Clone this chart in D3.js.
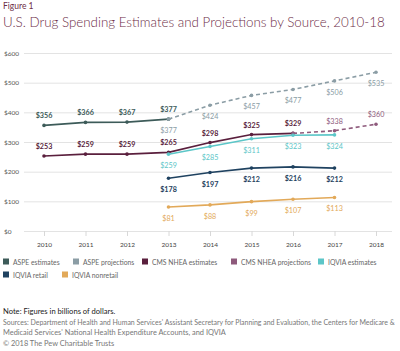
<!DOCTYPE html>
<html>
<head>
<meta charset="utf-8">
<script src="https://cdn.jsdelivr.net/npm/d3@7"></script>
<style>
  body { margin: 0; background: #fff; }
  svg { display: block; font-family: Lato, "Open Sans", sans-serif; }
</style>
</head>
<body>
<svg id="chart" width="400" height="351"></svg>
<script>
// values (billions of dollars)
const years = [2010, 2011, 2012, 2013, 2014, 2015, 2016, 2017, 2018];
const yTicks = [0, 100, 200, 300, 400, 500, 600];

const aspeEstYears = [2010, 2011, 2012, 2013];
const aspeEst = [356, 366, 367, 377];
const aspeProjYears = [2013, 2014, 2015, 2016, 2017, 2018];
const aspeProj = [377, 424, 457, 477, 506, 535];
const cmsEstYears = [2010, 2011, 2012, 2013, 2014, 2015, 2016];
const cmsEst = [253, 259, 259, 265, 298, 325, 329];
const cmsProjYears = [2016, 2017, 2018];
const cmsProj = [329, 338, 360];
const iqviaYears = [2013, 2014, 2015, 2016, 2017];
const iqviaEst = [259, 285, 311, 323, 324];
const iqviaRetail = [178, 197, 212, 216, 212];
const iqviaNonretail = [81, 88, 99, 107, 113];

const series = [
  { name: "ASPE estimates", x: aspeEstYears, y: aspeEst, color: "#3d5b59", dash: null, pos: "above", bold: true, skip: [] },
  { name: "ASPE projections", x: aspeProjYears, y: aspeProj, color: "#8b9da5", dash: "4,3", pos: "below", bold: false, skip: [] },
  { name: "CMS NHEA estimates", x: cmsEstYears, y: cmsEst, color: "#5a1f3d", dash: null, pos: "above", bold: true, skip: [] },
  { name: "CMS NHEA projections", x: cmsProjYears, y: cmsProj, color: "#8e5a7c", dash: "4,3", pos: "above", bold: false, skip: [0] },
  { name: "IQVIA estimates", x: iqviaYears, y: iqviaEst, color: "#5cc6c8", dash: null, pos: "below", bold: false, skip: [] },
  { name: "IQVIA retail", x: iqviaYears, y: iqviaRetail, color: "#1f4260", dash: null, pos: "below", bold: true, skip: [] },
  { name: "IQVIA nonretail", x: iqviaYears, y: iqviaNonretail, color: "#e2a959", dash: null, pos: "below", bold: false, skip: [] }
];

const svg = d3.select("#chart");

// shrink/grow a text so it spans the given width
const fitText = (sel, width) => {
  const fs = +sel.attr("font-size");
  const len = sel.node().getComputedTextLength();
  sel.attr("font-size", fs * width / len);
};

svg.append("text").attr("x", 3).attr("y", 9)
  .attr("font-size", 8.5).attr("fill", "#6d2d47").text("Figure 1");
svg.append("text").attr("x", 3).attr("y", 27)
  .attr("font-size", 17).attr("fill", "#6d2d47").attr("font-weight", 300)
  .text("U.S. Drug Spending Estimates and Projections by Source, 2010-18")
  .call(fitText, 382);

const x = d3.scalePoint().domain(years).range([44, 376]);
const y = d3.scaleLinear().domain([0, 600]).range([231, 53]);

// gridlines + y labels
const yAxis = d3.axisLeft(y).tickValues(yTicks).tickSize(-368).tickFormat(d => "$" + d);
const gy = svg.append("g").attr("transform", "translate(24,0)").call(yAxis);
gy.select(".domain").remove();
gy.selectAll(".tick line").attr("stroke", "#e3e3e3").attr("stroke-width", 1);
gy.selectAll(".tick text").attr("x", -20).attr("text-anchor", "start")
  .attr("font-size", 6.5).attr("fill", "#555").attr("font-family", "Lato, sans-serif");

// x axis
const xAxis = d3.axisBottom(x).tickSize(5).tickPadding(6);
const gx = svg.append("g").attr("transform", "translate(0,231)").call(xAxis);
gx.select(".domain").remove();
gx.selectAll(".tick line").attr("stroke", "#d8d8d8");
gx.selectAll(".tick text").attr("font-size", 6.5).attr("fill", "#444").attr("font-family", "Lato, sans-serif");

const line = d3.line().x(d => x(d[0])).y(d => y(d[1]));

series.forEach(s => {
  const pts = s.x.map((yr, i) => [yr, s.y[i]]);
  svg.append("path").datum(pts)
    .attr("d", line).attr("fill", "none")
    .attr("stroke", s.color).attr("stroke-width", 1.6)
    .attr("stroke-dasharray", s.dash);
  svg.append("g").selectAll("circle").data(pts).join("circle")
    .attr("cx", d => x(d[0])).attr("cy", d => y(d[1])).attr("r", 1.8)
    .attr("fill", s.color);
  svg.append("g").selectAll("text").data(pts.filter((d, i) => !s.skip.includes(i))).join("text")
    .attr("x", d => x(d[0]))
    .attr("y", d => y(d[1]) + (s.pos === "above" ? -7 : 14))
    .attr("text-anchor", "middle")
    .attr("font-size", 7.2)
    .attr("font-weight", s.bold ? 700 : 400)
    .attr("fill", s.color)
    .text(d => "$" + d[1]);
});

// legend
const legendPos = [
  [3, 264], [73, 264], [142, 264], [231, 264], [318, 264],
  [3, 277], [62, 277]
];
const lg = svg.append("g").selectAll("g").data(series).join("g")
  .attr("transform", (d, i) => `translate(${legendPos[i][0]},${legendPos[i][1]})`);
lg.append("rect").attr("x", 0).attr("y", -5.5).attr("width", 6).attr("height", 6)
  .attr("fill", d => d.color);
lg.append("text").attr("x", 10).attr("y", 0.5).attr("font-size", 6.8)
  .attr("fill", "#666").text(d => d.name);

// notes
svg.append("text").attr("x", 3).attr("y", 314).attr("font-size", 7.6)
  .attr("fill", "#222").text("Note: Figures in billions of dollars.");
svg.append("text").attr("x", 3).attr("y", 325).attr("font-size", 7)
  .attr("fill", "#777").text("Sources: Department of Health and Human Services' Assistant Secretary for Planning and Evaluation, the Centers for Medicare &")
  .call(fitText, 392);
svg.append("text").attr("x", 3).attr("y", 334.5).attr("font-size", 7.4)
  .attr("fill", "#777").text("Medicaid Services' National Health Expenditure Accounts, and IQVIA");
svg.append("text").attr("x", 3).attr("y", 346).attr("font-size", 7.4)
  .attr("fill", "#777").text("\u00a9 2018 The Pew Charitable Trusts");
</script>
</body>
</html>
